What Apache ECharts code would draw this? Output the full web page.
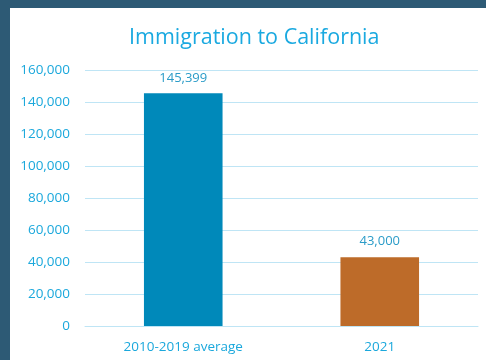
<!DOCTYPE html>
<html>
<head>
<meta charset="utf-8">
<script src="https://cdn.jsdelivr.net/npm/echarts@6/dist/echarts.min.js"></script>
<style>
html,body{margin:0;padding:0;background:#2d5a75;width:486px;height:360px;overflow:hidden;}
#c{position:absolute;left:10px;top:8px;width:476px;height:352px;background:#fff;}
</style>
</head>
<body>
<div id="c"></div>
<script>
const titleText = 'Immigration to California';
const categories = ['2010-2019 average', '2021'];
const values = [145399, 43000];
const barColors = ['#0089ba', '#bd6b29'];
const yTicks = { min: 0, max: 160000, interval: 20000 };

const chart = echarts.init(document.getElementById('c'), null, { renderer: 'canvas' });
const font = '"Open Sans", "Noto Sans", sans-serif';
chart.setOption({
  animation: false,
  title: {
    text: titleText,
    left: 114,
    top: 14,
    textStyle: { fontFamily: font, fontSize: 21.5, fontWeight: 'normal', color: '#1aa9e0' }
  },
  grid: { left: 75, right: 8, top: 62, bottom: 34, containLabel: false },
  xAxis: {
    type: 'category',
    data: categories,
    axisLine: { show: true, lineStyle: { color: '#bfe5f5', width: 1 } },
    axisTick: { show: false },
    axisLabel: { fontFamily: font, fontSize: 13.5, color: '#1ba8dc', margin: 14 }
  },
  yAxis: {
    type: 'value',
    min: yTicks.min,
    max: yTicks.max,
    interval: yTicks.interval,
    axisLine: { show: false },
    axisTick: { show: false },
    splitLine: { lineStyle: { color: '#bfe5f5', width: 1 } },
    axisLabel: {
      fontFamily: font, fontSize: 13.5, color: '#1ba8dc', margin: 15,
      formatter: v => v.toLocaleString('en-US')
    }
  },
  series: [{
    type: 'bar',
    barWidth: '40%',
    data: values.map((v, i) => ({ value: v, itemStyle: { color: barColors[i] } })),
    label: {
      show: true, position: 'top', distance: 9,
      fontFamily: font, fontSize: 13, color: '#2b9cc8',
      formatter: p => p.value.toLocaleString('en-US')
    }
  }]
});
</script>
</body>
</html>
